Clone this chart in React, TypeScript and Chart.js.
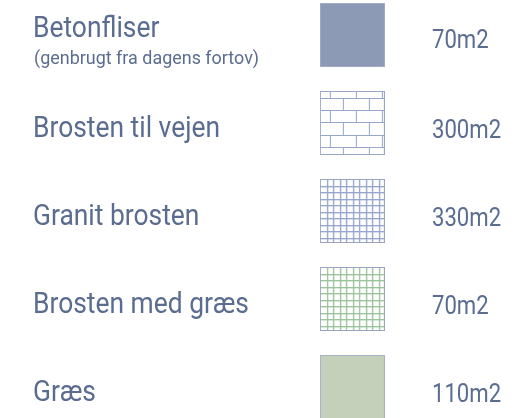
import React, { useEffect, useRef } from "react";
import { Chart, registerables } from "chart.js";

Chart.register(...registerables);

// ---- data ----
const materials = ["Betonfliser", "Brosten til vejen", "Granit brosten", "Brosten med græs", "Græs"];
const notes = ["(genbrugt fra dagens fortov)", "", "", "", ""];
const areas = [70, 300, 330, 70, 110];
const unit = "m2";
const swatchKinds = ["concrete", "brick", "gridBlue", "gridGreen", "grass"];

const TEXT = "#5a6c8f";

function makeSwatch(kind: string): HTMLCanvasElement {
  const W = 65;
  const H = 64;
  const c = document.createElement("canvas");
  c.width = W;
  c.height = H;
  const g = c.getContext("2d")!;
  g.lineWidth = 1;
  const hLine = (y: number) => {
    g.beginPath();
    g.moveTo(0, y + 0.5);
    g.lineTo(W, y + 0.5);
    g.stroke();
  };
  const vLine = (x: number, y0: number, y1: number) => {
    g.beginPath();
    g.moveTo(x + 0.5, y0);
    g.lineTo(x + 0.5, y1);
    g.stroke();
  };
  if (kind === "concrete") {
    g.fillStyle = "#8d9ab5";
    g.fillRect(0, 0, W, H);
    g.strokeStyle = "#a2abc3";
    g.strokeRect(0.5, 0.5, W - 1, H - 1);
  } else if (kind === "grass") {
    g.fillStyle = "#c5d0bb";
    g.fillRect(0, 0, W, H);
    g.strokeStyle = "#a8b0c5";
    g.strokeRect(0.5, 0.5, W - 1, H - 1);
  } else if (kind === "brick") {
    g.fillStyle = "#ffffff";
    g.fillRect(0, 0, W, H);
    g.strokeStyle = "#98a6ca";
    const rows = [0, 7, 19, 31, 44, 56, 64];
    for (let r = 1; r < rows.length - 1; r++) hLine(rows[r]);
    for (let r = 0; r < rows.length - 1; r++) {
      const xs = r % 2 === 0 ? [10, 36, 62] : [23, 49];
      xs.forEach((x) => vLine(x, rows[r], rows[r + 1]));
    }
    g.strokeStyle = "#9aa6c6";
    g.strokeRect(0.5, 0.5, W - 1, H - 1);
  } else {
    const green = kind === "gridGreen";
    g.fillStyle = "#ffffff";
    g.fillRect(0, 0, W, H);
    g.strokeStyle = green ? "#9cc49c" : "#97a6cc";
    for (let k = 1; k < 10; k++) {
      const p = Math.round(k * 6.5);
      hLine(p);
      vLine(p, 0, H);
    }
    g.strokeStyle = green ? "rgba(156,196,156,0.35)" : "rgba(151,166,204,0.35)";
    for (let k = 1; k < 10; k++) {
      const p = Math.round(k * 6.5) + 1;
      hLine(p);
      vLine(p, 0, H);
    }
    g.strokeStyle = "#9aa4c0";
    g.strokeRect(0.5, 0.5, W - 1, H - 1);
  }
  return c;
}

function drawCondensed(ctx: CanvasRenderingContext2D, text: string, x: number, y: number, font: string, sx: number) {
  ctx.save();
  ctx.font = font;
  ctx.translate(x, y);
  ctx.scale(sx, 1);
  ctx.fillText(text, 0, 0);
  ctx.restore();
}

const textPlugin = {
  id: "rowText",
  afterDatasetsDraw(chart: any) {
    const ctx = chart.ctx as CanvasRenderingContext2D;
    const ys = chart.scales.y;
    ctx.save();
    ctx.fillStyle = TEXT;
    ctx.textAlign = "left";
    ctx.textBaseline = "alphabetic";
    materials.forEach((m, i) => {
      const yc = ys.getPixelForValue(i);
      const hasNote = notes[i] !== "";
      drawCondensed(ctx, m, 33, yc + (hasNote ? 2 : 14), "30px Roboto", 0.88);
      if (hasNote) {
        drawCondensed(ctx, notes[i], 34, yc + 29, "18.5px Roboto", 0.97);
      }
      drawCondensed(ctx, areas[i] + unit, 432, yc + (hasNote ? 13 : 15), "25px Roboto", 0.885);
    });
    ctx.restore();
  },
};

export default function App() {
  const ref = useRef<HTMLCanvasElement | null>(null);
  useEffect(() => {
    if (!ref.current) return;
    const swatches = swatchKinds.map(makeSwatch);
    const chart = new Chart(ref.current, {
      type: "scatter",
      data: {
        datasets: [
          {
            data: areas.map((a, i) => ({ x: 0, y: i, area: a })) as any,
            pointStyle: (c: any) => swatches[c.dataIndex] as any,
            pointRadius: 32,
            pointHoverRadius: 32,
            clip: false as any,
          },
        ],
      },
      options: {
        responsive: false,
        animation: false,
        layout: { padding: 0, autoPadding: false } as any,
        plugins: { legend: { display: false }, tooltip: { enabled: false } },
        scales: {
          x: { type: "linear", display: false, min: -0.675, max: 0.325 },
          y: { type: "linear", display: false, reverse: true, min: -35 / 88, max: 383 / 88 },
        },
      },
      plugins: [textPlugin],
    });
    return () => chart.destroy();
  }, []);
  return (
    <div style={{ position: "absolute", left: 0, top: 0, width: 522, height: 418, background: "#fff" }}>
      <canvas ref={ref} width={522} height={418} />
    </div>
  );
}
